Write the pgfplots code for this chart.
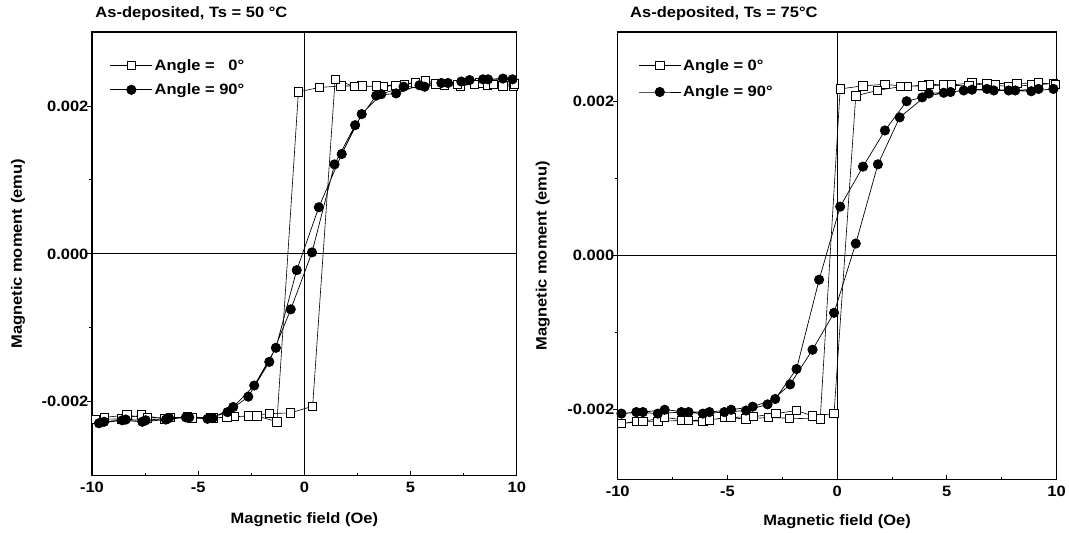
\documentclass[border=0pt]{standalone}
\usepackage{fontspec}
\setmainfont{Liberation Sans}[FakeStretch=1.1]
\usepackage{pgfplots}
\pgfplotsset{compat=1.18}
\newcommand{\ff}{\fontsize{15}{18}\selectfont\bfseries}
\pgfplotsset{
 mystyle/.style={
  scale only axis, xmin=-10, xmax=10, tick pos=left, tick align=inside,
  scaled y ticks=false, scaled x ticks=false,
  xtick={-10,-5,0,5,10}, xticklabels={-10,-5,0,5,10},
  minor xtick={-7.5,-2.5,2.5,7.5},
  ytick={-0.002,0,0.002}, yticklabels={-0.002,0.000,0.002},
  minor ytick={-0.001,0.001},
  major tick length=4.5pt, minor tick length=3pt,
  every major y tick/.style={xshift=-4.5pt},
  every minor y tick/.style={xshift=-3pt},
  axis line style={line width=1.3pt},
  every tick/.style={black,line width=0.9pt},
  tick label style={font=\ff},
  xticklabel style={yshift=-3pt},
  title style={font=\ff, at={(0,1)}, anchor=base west, yshift=8pt},
  xlabel={Magnetic field (Oe)}, ylabel={Magnetic moment (emu)},
  legend cell align=left,
  legend style={draw=none, fill=none, font=\ff, anchor=north west},
  legend image code/.code={\draw[mark repeat=2,mark phase=2,#1] plot coordinates {(0pt,0pt)(21pt,0pt)(42pt,0pt)};},
 },
 sq/.style={black, line width=0.6pt, mark=square*, mark options={fill=white, line width=0.9pt, solid}, mark size=4.2pt},
 ci/.style={black, line width=0.7pt, mark=*, mark options={fill=black, solid}, mark size=4.7pt},
}
\begin{document}
\begin{tikzpicture}[x=1pt,y=1pt]
\path (0,0) rectangle (1069,532);
% ---------------- left panel ----------------
\begin{axis}[mystyle, at={(92pt,56pt)}, anchor=south west, width=425pt, height=444pt,
  ymin=-0.003, ymax=0.003,
  title={As-deposited, Ts = 50 °C},
  every axis y label/.style={at={(axis description cs:-0.174,0.5)}, rotate=90, anchor=center, font=\ff},
  every axis x label/.style={at={(axis description cs:0.5,-0.099)}, anchor=center, font=\ff},
  legend style={at={(axis description cs:0.035,0.948)}, row sep=8pt}]
\addplot[black, line width=1pt, forget plot] coordinates {(-10,0) (10,0)};
\addplot[black, line width=1pt, forget plot] coordinates {(0,-0.003) (0,0.003)};
\addplot[sq] coordinates {
(9.83,0.00227) (9.35,0.00227) (8.63,0.00228) (8.25,0.00231) (7.34,0.00227)
(6.60,0.00228) (5.71,0.00234) (4.32,0.00228) (3.73,0.00226) (2.72,0.00227)
(1.73,0.00227) (0.71,0.00225) (-0.28,0.00219) (-1.29,-0.00227) (-2.23,-0.00219)
(-3.30,-0.00220) (-4.40,-0.00222) (-5.50,-0.00220) (-6.60,-0.00223) (-7.67,-0.00218)
(-8.60,-0.00223) (-9.83,-0.00224)
(-9.40,-0.00221) (-8.36,-0.00218) (-7.40,-0.00222) (-6.30,-0.00221) (-5.30,-0.00222)
(-4.30,-0.00222) (-3.65,-0.00221) (-2.63,-0.00219) (-1.65,-0.00216) (-0.66,-0.00215)
(0.39,-0.00206) (1.45,0.00236) (2.36,0.00226) (3.38,0.00227) (4.70,0.00229)
(5.22,0.00231) (6.20,0.00230) (7.20,0.00229) (8.00,0.00229) (8.90,0.00229) (9.90,0.00230)
};
\addlegendentry{Angle = \hphantom{9}0°}
\addplot[ci] coordinates {
(9.80,0.00236) (8.65,0.00236) (7.78,0.00235) (6.76,0.00231) (5.66,0.00226)
(4.67,0.00226) (3.62,0.00216) (2.70,0.00189) (1.76,0.00135) (0.68,0.00063)
(-0.36,-0.00022) (-1.34,-0.00127) (-2.36,-0.00178) (-3.35,-0.00207) (-4.32,-0.00222)
(-5.42,-0.00221) (-6.37,-0.00222) (-7.47,-0.00225) (-8.41,-0.00224) (-9.43,-0.00227)
(-9.67,-0.00229) (-8.57,-0.00225) (-7.63,-0.00227) (-6.52,-0.00224) (-5.58,-0.00221)
(-4.56,-0.00223) (-3.62,-0.00214) (-2.64,-0.00193) (-1.65,-0.00146) (-0.64,-0.00075)
(0.36,0.00002) (1.42,0.00121) (2.39,0.00174) (3.38,0.00214) (4.32,0.00217)
(5.42,0.00228) (6.45,0.00231) (7.39,0.00233) (8.41,0.00236) (9.35,0.00237)
};
\addlegendentry{Angle = 90°}
\end{axis}
% ---------------- right panel ----------------
\begin{axis}[mystyle, at={(618pt,52pt)}, anchor=south west, width=439pt, height=448pt,
  ymin=-0.00292, ymax=0.0029,
  title={As-deposited, Ts = 75°C},
  title style={xshift=9pt},
  every axis y label/.style={at={(axis description cs:-0.171,0.5)}, rotate=90, anchor=center, font=\ff},
  every axis x label/.style={at={(axis description cs:0.5,-0.094)}, anchor=center, font=\ff},
  legend style={at={(axis description cs:0.04,0.948)}, row sep=10pt}]
\addplot[black, line width=1pt, forget plot] coordinates {(-10,0) (10,0)};
\addplot[black, line width=1pt, forget plot] coordinates {(0,-0.00292) (0,0.0029)};
\addplot[sq] coordinates {
(9.86,0.00223) (8.88,0.00221) (7.82,0.00219) (7.21,0.00221) (6.15,0.00224)
(5.21,0.00221) (4.18,0.00222) (3.20,0.00219) (2.18,0.00222) (1.18,0.00220)
(0.14,0.00216) (-0.77,-0.00213) (-2.18,-0.00212) (-3.14,-0.00211) (-4.15,-0.00213)
(-5.14,-0.00211) (-6.12,-0.00216) (-7.10,-0.00215) (-8.17,-0.00216) (-9.15,-0.00216)
(-9.83,-0.00219)
(-8.85,-0.00216) (-7.86,-0.00211) (-6.77,-0.00215) (-5.82,-0.00214) (-4.83,-0.00211)
(-3.80,-0.00210) (-2.79,-0.00206) (-1.85,-0.00202) (-1.12,-0.00209) (-0.14,-0.00206)
(0.85,0.00207) (1.83,0.00214) (2.90,0.00219) (3.88,0.00220) (4.86,0.00221)
(6.00,0.00220) (6.83,0.00223) (8.20,0.00223) (9.18,0.00224) (9.95,0.00222)
};
\addlegendentry{Angle = 0°}
\addplot[ci] coordinates {
(9.86,0.00216) (8.85,0.00213) (7.82,0.00214) (6.83,0.00216) (5.77,0.00214)
(4.86,0.00211) (3.88,0.00205) (3.17,0.00200) (2.18,0.00162) (1.18,0.00115)
(0.14,0.00063) (-0.82,-0.00032) (-1.85,-0.00148) (-2.82,-0.00187) (-3.85,-0.00197)
(-4.83,-0.00201) (-5.82,-0.00204) (-6.77,-0.00204) (-7.86,-0.00201) (-8.85,-0.00204)
(-9.83,-0.00206)
(-9.15,-0.00204) (-8.17,-0.00206) (-7.10,-0.00204) (-6.12,-0.00206) (-5.14,-0.00204)
(-4.15,-0.00202) (-3.17,-0.00194) (-2.14,-0.00168) (-1.12,-0.00123) (-0.14,-0.00075)
(0.85,0.00015) (1.86,0.00118) (2.85,0.00179) (4.18,0.00210) (5.17,0.00212)
(6.15,0.00215) (7.14,0.00214) (8.12,0.00214) (9.18,0.00216)
};
\addlegendentry{Angle = 90°}
\end{axis}
\end{tikzpicture}
\end{document}
